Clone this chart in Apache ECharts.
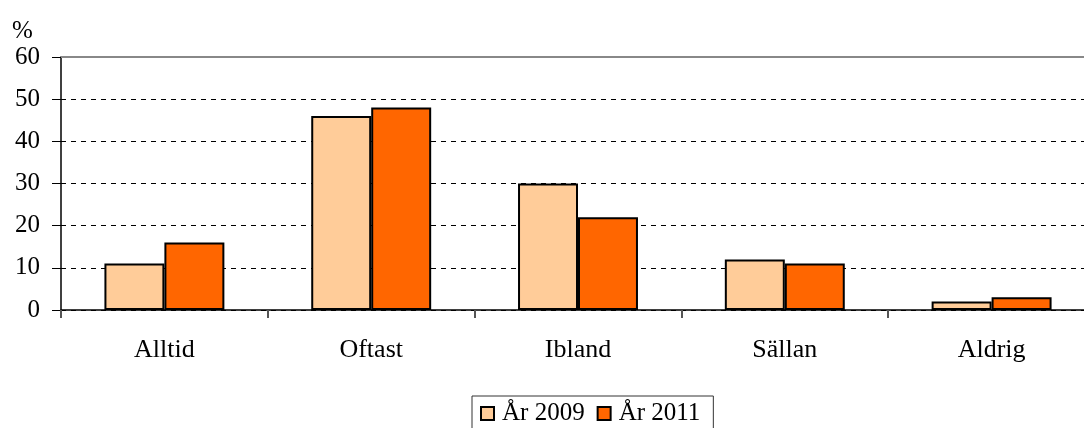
<!DOCTYPE html>
<html><head><meta charset="utf-8">
<script src="https://cdn.jsdelivr.net/npm/echarts@6/dist/echarts.min.js"></script>
<style>html,body{margin:0;padding:0;background:#fff}#c{width:1084px;height:428px}</style>
</head><body><div id="c"></div>
<script>
var categories = ['Alltid', 'Oftast', 'Ibland', 'Sällan', 'Aldrig'];
var seriesNames = ['År 2009', 'År 2011'];
var values2009 = [11, 46, 30, 12, 2];
var values2011 = [16, 48, 22, 11, 3];
var yTicks = { min: 0, max: 60, interval: 10 };
var unitLabel = '%';

var font = "'Liberation Serif', serif";
var chart = echarts.init(document.getElementById('c'));
chart.setOption({
  animation: false,
  textStyle: { fontFamily: font },
  grid: { left: 61, top: 57, width: 1034, bottom: 118, containLabel: false, outerBoundsMode: 'none' },
  legend: {
    bottom: -14, left: 472,
    data: seriesNames,
    itemWidth: 13, itemHeight: 13, itemGap: 12,
    borderColor: '#333', borderWidth: 1, padding: [5, 13, 16, 8],
    textStyle: { fontFamily: font, fontSize: 25, color: '#000', padding: [0,0,0,3] },
    icon: 'rect'
  },
  xAxis: [{
    type: 'category', data: categories,
    axisLine: { lineStyle: { color: '#000', width: 1.5 } },
    axisTick: { show: true, length: 8, lineStyle: { color: '#555', width: 2 } },
    axisLabel: { fontSize: 26, color: '#000', margin: 27, fontFamily: font }
  }, {
    type: 'category', data: categories, position: 'top',
    axisLine: { show: true, lineStyle: { color: '#888', width: 2 } },
    axisTick: { show: false }, axisLabel: { show: false }
  }],
  yAxis: {
    type: 'value', min: yTicks.min, max: yTicks.max, interval: yTicks.interval,
    name: unitLabel, nameLocation: 'end', nameGap: 13,
    nameTextStyle: { fontSize: 25, color: '#000', fontFamily: font, align: 'left', padding: [0, 0, 0, -49] },
    axisLine: { show: true, lineStyle: { color: '#000', width: 1.5 } },
    axisTick: { show: true, length: 9, lineStyle: { color: '#000' } },
    axisLabel: { fontSize: 25, color: '#000', margin: 21, fontFamily: font },
    splitLine: { show: true, lineStyle: { color: '#000', type: [5, 5], width: 1 } }
  },
  series: [{
    name: seriesNames[0], type: 'bar', data: values2009, barGap: '0%', barCategoryGap: '42%',
    itemStyle: { color: '#FFCC99', borderColor: '#000', borderWidth: 2 }
  }, {
    name: seriesNames[1], type: 'bar', data: values2011,
    itemStyle: { color: '#FF6600', borderColor: '#000', borderWidth: 2 }
  }]
});
</script></body></html>
